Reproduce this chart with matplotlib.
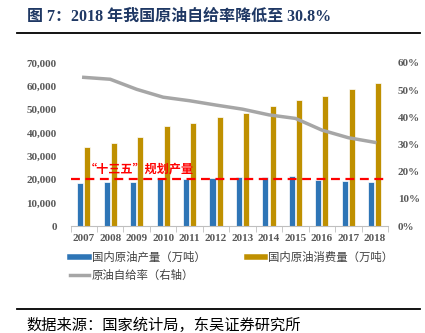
import matplotlib
matplotlib.use("Agg")
import matplotlib.pyplot as plt
from matplotlib.lines import Line2D
import numpy as np

years = ["2007", "2008", "2009", "2010", "2011", "2012", "2013", "2014", "2015", "2016", "2017", "2018"]
production = [18632, 19044, 18949, 20301, 20288, 20748, 20992, 21143, 21456, 19969, 19151, 18911]
consumption = [33900, 35500, 38100, 42800, 44100, 46800, 48700, 51500, 54100, 55900, 58800, 61400]
self_rate = [54.7, 54.0, 50.3, 47.4, 46.1, 44.5, 43.0, 40.9, 39.6, 35.3, 32.5, 30.8]
plan_level = 20000
left_ticks = [0, 10000, 20000, 30000, 40000, 50000, 60000, 70000]
right_ticks = [0, 10, 20, 30, 40, 50, 60]

FAM = ["Liberation Serif", "Noto Sans CJK SC"]
CJK = ["Noto Sans CJK SC", "DejaVu Sans"]
plt.rcParams["font.family"] = FAM

blue = "#2E75B6"
gold = "#BF9000"
gray = "#A6A6A6"
tick_col = "#595959"

fig = plt.figure(figsize=(4.25, 3.33), dpi=100)
ax = fig.add_axes([0.166, 0.321, 0.747, 0.490])
x = np.arange(len(years))
w = 0.23
ax.bar(x - 0.135, production, width=w, color=blue, edgecolor="white", linewidth=0.5, zorder=2)
ax.bar(x + 0.135, consumption, width=w, color=gold, edgecolor="white", linewidth=0.5, zorder=2)
ax.axhline(plan_level, color="#FF0000", linestyle=(0, (4, 2.5)), linewidth=1.6, zorder=4)
ax.text(0.05, plan_level + 1700, "“十三五”规划产量", color="#FF0000", fontsize=8.7,
        family=CJK, fontweight="bold", ha="left", va="bottom", zorder=5)
ax.set_xlim(-0.5, len(years) - 0.5)
ax.set_ylim(0, 70000)
ax.set_yticks(left_ticks)
ax.set_yticklabels([f"{v:,}" for v in left_ticks])
ax.set_xticks(x)
ax.set_xticklabels(years)
ax.set_xticks(np.arange(-0.5, len(years), 1), minor=True)
ax.tick_params(axis="x", which="major", length=0, pad=6, labelsize=8, labelcolor=tick_col)
ax.tick_params(axis="x", which="minor", length=4, color="#BFBFBF")
ax.tick_params(axis="y", length=0, pad=10, labelsize=8, labelcolor=tick_col)
for lab in ax.get_xticklabels() + ax.get_yticklabels():
    lab.set_fontweight("bold")
for s in ["top", "right", "left"]:
    ax.spines[s].set_visible(False)
ax.spines["bottom"].set_color("#BFBFBF")

ax2 = ax.twinx()
ax2.plot(x, self_rate, color=gray, linewidth=2.5, zorder=3)
ax2.set_ylim(0, 60)
ax2.set_yticks(right_ticks)
ax2.set_yticklabels([f"{v}%" for v in right_ticks])
ax2.tick_params(axis="y", length=0, pad=7, labelsize=8, labelcolor=tick_col)
for lab in ax2.get_yticklabels():
    lab.set_fontweight("bold")
for s in ["top", "right", "left", "bottom"]:
    ax2.spines[s].set_visible(False)

handles = [Line2D([], [], color=blue, linewidth=4),
           Line2D([], [], color=gray, linewidth=2.5),
           Line2D([], [], color=gold, linewidth=4)]
labels = ["国内原油产量（万吨）", "原油自给率（右轴）", "国内原油消费量（万吨）"]
leg = fig.legend(handles, labels, ncol=2, loc="upper left", bbox_to_anchor=(0.155, 0.258),
                 frameon=False, prop={"family": CJK, "size": 8.2}, handlelength=1.6,
                 handletextpad=0.3, columnspacing=3.6, labelspacing=0.6, borderaxespad=0)
for t in leg.get_texts():
    t.set_color("#404040")

fig.text(0.063, 0.948, "图 7：2018 年我国原油自给率降低至 30.8%", family=["Liberation Serif", "Noto Sans CJK SC"],
         fontsize=11.5, fontweight="bold", color="#1F3864", ha="left", va="center")
fig.add_artist(Line2D([0.04, 0.988], [0.901, 0.901], color="black", linewidth=1.3, transform=fig.transFigure))
fig.add_artist(Line2D([0.04, 0.988], [0.072, 0.072], color="black", linewidth=1.3, transform=fig.transFigure))
fig.text(0.063, 0.024, "数据来源：国家统计局，东吴证券研究所", family=CJK, fontsize=11,
         color="black", ha="left", va="center")

fig.savefig("out.png", dpi=100)
